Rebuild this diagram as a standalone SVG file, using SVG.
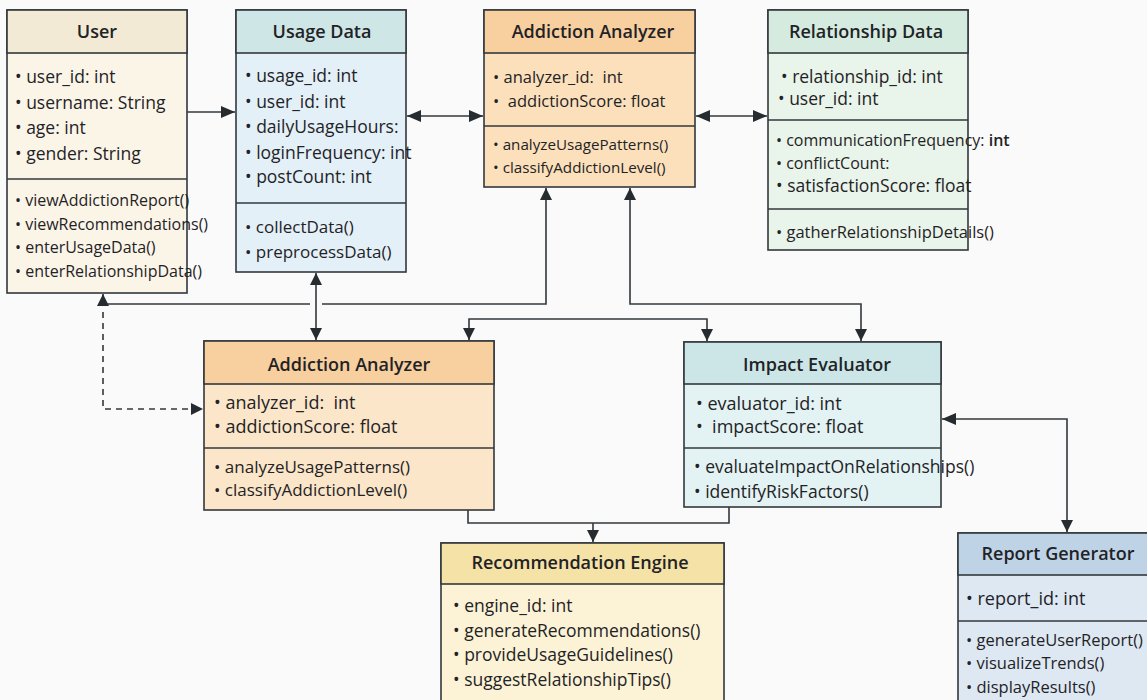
<svg xmlns="http://www.w3.org/2000/svg" width="1147" height="700" viewBox="0 0 1147 700">
<defs>
<style>
.box{stroke:#33383d;stroke-width:1.6}
.ln{stroke:#33383d;stroke-width:1.6;fill:none}
.hd{font-family:"Open Sans","Noto Sans",sans-serif;font-weight:600;font-size:18px;fill:#1f2326;text-anchor:middle}
text{font-family:"Open Sans","Noto Sans",sans-serif;fill:#1f2326;white-space:pre}
.a15{font-size:15.2px}
.a16{font-size:16px}
.a165{font-size:16.5px}
.a17{font-size:17px}
.a175{font-size:17.5px}
.a18{font-size:18px}
</style>
<marker id="ah" viewBox="0 0 12 12" refX="12" refY="6" markerWidth="12" markerHeight="12" markerUnits="userSpaceOnUse" orient="auto-start-reverse">
<path d="M0,0 L12,6 L0,12 Z" fill="#262b30"/>
</marker>
<marker id="ahL" viewBox="0 0 14 12" refX="14" refY="6" markerWidth="14" markerHeight="12" markerUnits="userSpaceOnUse" orient="auto-start-reverse">
<path d="M0,0 L14,6 L0,12 Z" fill="#262b30"/>
</marker>
</defs>
<rect width="1147" height="700" fill="#fafafa"/>

<g id="connectors">
<line class="ln" x1="187" y1="112" x2="235" y2="112" marker-end="url(#ahL)"/>
<line class="ln" x1="407" y1="116" x2="483" y2="116" marker-start="url(#ahL)" marker-end="url(#ahL)"/>
<line class="ln" x1="696" y1="116" x2="767" y2="116" marker-start="url(#ahL)" marker-end="url(#ahL)"/>
<line class="ln" x1="316" y1="273" x2="316" y2="340" marker-start="url(#ah)" marker-end="url(#ah)"/>
<path class="ln" d="M546,188 V304 H322 M310,304 H103 V294" marker-start="url(#ah)" marker-end="url(#ah)"/>
<path class="ln" d="M103,312 V409 H203" stroke-dasharray="6,5" marker-end="url(#ah)"/>
<path class="ln" d="M630,188 V304 H861 V341" marker-start="url(#ah)" marker-end="url(#ah)"/>
<path class="ln" d="M469,340 V319 H707 V341" marker-start="url(#ah)" marker-end="url(#ah)"/>
<path class="ln" d="M942,419 H1067 V532" marker-start="url(#ahL)" marker-end="url(#ah)"/>
<path class="ln" d="M468,510 V523 H729 V507"/>
<line class="ln" x1="593" y1="523" x2="593" y2="542" marker-end="url(#ah)"/>
</g>

<g id="user">
<rect class="box" x="7" y="10" width="180" height="283" fill="#fbf5e8"/>
<rect class="box" x="7" y="10" width="180" height="43" fill="#f3ead6"/>
<line class="box" x1="7" y1="179" x2="187" y2="179"/>
<text class="hd" x="97" y="38">User</text>
<text class="a175" x="15" y="83">• user_id: int</text>
<text class="a175" x="15" y="109">• username: String</text>
<text class="a175" x="15" y="134">• age: int</text>
<text class="a175" x="15" y="160">• gender: String</text>
<text class="a16" x="15" y="206">• viewAddictionReport()</text>
<text class="a16" x="15" y="230">• viewRecommendations()</text>
<text class="a16" x="15" y="253">• enterUsageData()</text>
<text class="a16" x="15" y="277">• enterRelationshipData()</text>
</g>

<g id="usage-data">
<rect class="box" x="236" y="10" width="170" height="262" fill="#e4f0f8"/>
<rect class="box" x="236" y="10" width="170" height="43" fill="#cfe6e6"/>
<line class="box" x1="236" y1="203" x2="406" y2="203"/>
<text class="hd" x="322" y="38">Usage Data</text>
<text class="a175" x="245" y="82">• usage_id: int</text>
<text class="a175" x="245" y="108">• user_id: int</text>
<text class="a175" x="245" y="133">• dailyUsageHours:</text>
<text class="a175" x="245" y="159">• loginFrequency: int</text>
<text class="a175" x="245" y="183">• postCount: int</text>
<text class="a17" x="245" y="233">• collectData()</text>
<text class="a17" x="245" y="258">• preprocessData()</text>
</g>

<g id="addiction-analyzer-top">
<rect class="box" x="484" y="10" width="211" height="177" fill="#fbe0bb"/>
<rect class="box" x="484" y="10" width="211" height="43" fill="#f8cf9e"/>
<line class="box" x1="484" y1="126" x2="695" y2="126"/>
<text class="hd" x="593" y="38">Addiction Analyzer</text>
<text class="a165" x="493" y="83">• analyzer_id:  int</text>
<text class="a165" x="493" y="107">•  addictionScore: float</text>
<text class="a15" x="493" y="150">• analyzeUsagePatterns()</text>
<text class="a15" x="493" y="173">• classifyAddictionLevel()</text>
</g>

<g id="relationship-data">
<rect class="box" x="768" y="10" width="200" height="240" fill="#e9f4ea"/>
<rect class="box" x="768" y="10" width="200" height="43" fill="#d5ebe0"/>
<line class="box" x1="768" y1="120" x2="968" y2="120"/>
<line class="box" x1="768" y1="209" x2="968" y2="209"/>
<text class="hd" x="866" y="38">Relationship Data</text>
<text class="a175" x="781" y="83">• relationship_id: int</text>
<text class="a175" x="778" y="105">• user_id: int</text>
<text class="a16" x="776" y="146">• communicationFrequency: <tspan font-weight="600">int</tspan></text>
<text class="a16" x="776" y="169">• conflictCount:</text>
<text class="a175" x="776" y="192">• satisfactionScore: float</text>
<text class="a165" x="776" y="238">• gatherRelationshipDetails()</text>
</g>

<g id="addiction-analyzer">
<rect class="box" x="204" y="341" width="290" height="169" fill="#fbe6c9"/>
<rect class="box" x="204" y="341" width="290" height="43" fill="#f8cf9e"/>
<line class="box" x1="204" y1="448" x2="494" y2="448"/>
<text class="hd" x="349" y="371">Addiction Analyzer</text>
<text class="a18" x="214" y="409">• analyzer_id:  int</text>
<text class="a18" x="214" y="433">• addictionScore: float</text>
<text class="a17" x="214" y="473">• analyzeUsagePatterns()</text>
<text class="a17" x="214" y="496">• classifyAddictionLevel()</text>
</g>

<g id="impact-evaluator">
<rect class="box" x="684" y="342" width="257" height="165" fill="#e3f3f3"/>
<rect class="box" x="684" y="342" width="257" height="42" fill="#cce6e8"/>
<line class="box" x1="684" y1="448" x2="941" y2="448"/>
<text class="hd" x="817" y="371">Impact Evaluator</text>
<text class="a18" x="696" y="410">• evaluator_id: int</text>
<text class="a18" x="696" y="433">•  impactScore: float</text>
<text class="a175" x="694" y="473">• evaluateImpactOnRelationships()</text>
<text class="a175" x="694" y="498">• identifyRiskFactors()</text>
</g>

<g id="recommendation-engine">
<rect class="box" x="441" y="543" width="283" height="160" fill="#fcf3d6"/>
<rect class="box" x="441" y="543" width="283" height="41" fill="#f5e2a6"/>
<text class="hd" x="580" y="569">Recommendation Engine</text>
<text class="a175" x="453" y="612">• engine_id: int</text>
<text class="a175" x="453" y="637">• generateRecommendations()</text>
<text class="a175" x="453" y="661">• provideUsageGuidelines()</text>
<text class="a175" x="453" y="686">• suggestRelationshipTips()</text>
</g>

<g id="report-generator">
<rect class="box" x="958" y="533" width="200" height="170" fill="#dde8f3"/>
<rect class="box" x="958" y="533" width="200" height="42" fill="#bfd3e6"/>
<line class="box" x1="958" y1="621" x2="1158" y2="621"/>
<text class="hd" x="1058" y="560">Report Generator</text>
<text class="a18" x="966" y="605">• report_id: int</text>
<text class="a165" x="966" y="646">• generateUserReport()</text>
<text class="a165" x="966" y="669">• visualizeTrends()</text>
<text class="a165" x="966" y="693">• displayResults()</text>
</g>
</svg>
